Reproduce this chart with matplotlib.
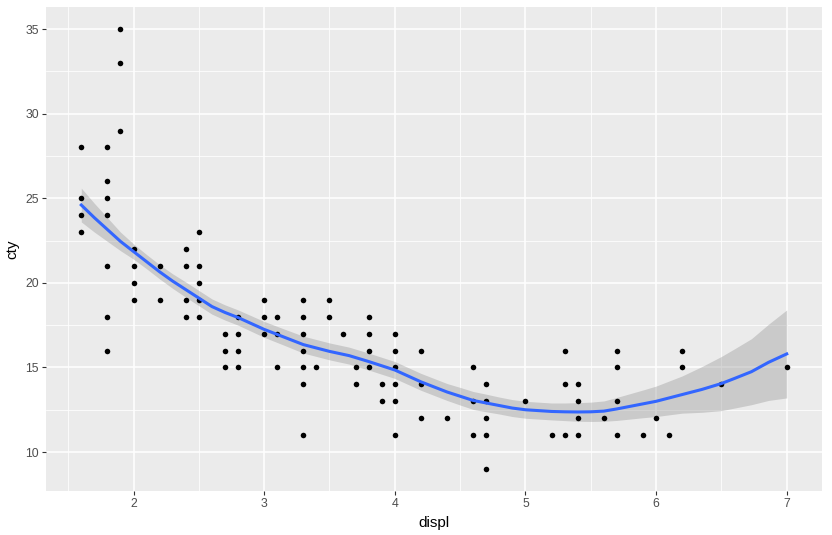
import matplotlib
matplotlib.use('Agg')
import matplotlib.pyplot as plt
import numpy as np

# Data: unique (displ, cty) pairs
displ = ([1.6] * 4 + [1.8] * 7 + [1.9] * 3 + [2.0] * 4 + [2.2] * 2 + [2.4] * 4 + [2.5] * 5
         + [2.7] * 3 + [2.8] * 4 + [3.0] * 3 + [3.1] * 3 + [3.3] * 7 + [3.4] + [3.5] * 2
         + [3.6] + [3.7] * 2 + [3.8] * 4 + [3.9] * 2 + [4.0] * 6 + [4.2] * 3 + [4.4]
         + [4.6] * 3 + [4.7] * 5 + [5.0] + [5.2] + [5.3] * 3 + [5.4] * 4 + [5.6]
         + [5.7] * 4 + [5.9] + [6.0] + [6.1] + [6.2] * 2 + [6.5] + [7.0])
cty = ([28, 25, 24, 23] + [28, 26, 25, 24, 21, 18, 16] + [35, 33, 29] + [22, 21, 20, 19]
       + [21, 19] + [22, 21, 19, 18] + [23, 21, 20, 19, 18]
       + [17, 16, 15] + [18, 17, 16, 15] + [19, 18, 17] + [18, 17, 15]
       + [19, 18, 17, 16, 15, 14, 11] + [15] + [19, 18]
       + [17] + [15, 14] + [18, 17, 16, 15] + [14, 13] + [17, 16, 15, 14, 13, 11]
       + [16, 14, 12] + [12]
       + [15, 13, 11] + [14, 13, 12, 11, 9] + [13] + [11] + [16, 14, 11] + [14, 13, 12, 11]
       + [12] + [16, 15, 13, 11] + [11] + [12] + [11] + [16, 15] + [14] + [15])

# Smooth curve (loess) and its confidence half-width
fit_x = [1.6, 1.7, 1.8, 1.9, 2.0, 2.1, 2.2, 2.3, 2.4, 2.5, 2.6, 2.7, 2.8, 2.9, 3.0,
         3.15, 3.3, 3.5, 3.65, 3.8, 4.0, 4.1, 4.2, 4.3, 4.4, 4.5, 4.6, 4.7, 4.8, 4.9,
         5.0, 5.1, 5.2, 5.3, 5.4, 5.5, 5.6, 5.7, 5.8, 5.9, 6.0, 6.1, 6.2, 6.35, 6.5,
         6.6, 6.73, 6.86, 7.0]
fit_y = [24.6, 23.85, 23.15, 22.45, 21.85, 21.25, 20.65, 20.1, 19.6, 19.1, 18.6, 18.25,
         17.95, 17.6, 17.25, 16.8, 16.35, 15.95, 15.7, 15.35, 14.85, 14.5, 14.15, 13.85,
         13.55, 13.3, 13.05, 12.9, 12.75, 12.6, 12.5, 12.45, 12.4, 12.38, 12.37, 12.38,
         12.42, 12.55, 12.7, 12.85, 13.0, 13.2, 13.4, 13.7, 14.05, 14.35, 14.75, 15.3,
         15.8]
fit_se = [1.0, 0.85, 0.7, 0.55, 0.45, 0.42, 0.42, 0.43, 0.45, 0.45, 0.45, 0.45, 0.45,
          0.46, 0.47, 0.48, 0.5, 0.5, 0.5, 0.5, 0.5, 0.5, 0.5, 0.5, 0.5, 0.52, 0.53, 0.52,
          0.5, 0.5, 0.5, 0.5, 0.5, 0.52, 0.55, 0.57, 0.6, 0.68, 0.75, 0.82, 0.9, 1.0,
          1.1, 1.35, 1.6, 1.75, 1.95, 2.25, 2.6]

plt.rcParams['font.family'] = ['Liberation Sans', 'DejaVu Sans']

fig = plt.figure(figsize=(8.32, 5.35), dpi=100)
ax = fig.add_axes([46 / 832, 44 / 535, 776 / 832, 484 / 535])
ax.set_facecolor('#EBEBEB')

fx = np.array(fit_x)
fy = np.array(fit_y)
fs = np.array(fit_se)
ax.fill_between(fx, fy - fs, fy + fs, color='#999999', alpha=0.4, linewidth=0, zorder=2)
ax.scatter(displ, cty, s=16, color='black', linewidths=0, zorder=3)
ax.plot(fx, fy, color='#3366FF', linewidth=2.2, zorder=4)

ax.set_xlim(1.33, 7.27)
ax.set_ylim(7.7, 36.3)
ax.set_xticks([2, 3, 4, 5, 6, 7])
ax.set_yticks([10, 15, 20, 25, 30, 35])
ax.set_xticks(np.arange(1.5, 7.0, 1.0), minor=True)
ax.set_yticks(np.arange(12.5, 35, 5), minor=True)
ax.grid(True, which='major', color='white', linewidth=1.1, zorder=0)
ax.grid(True, which='minor', color='white', linewidth=0.55, zorder=0)
ax.set_axisbelow(True)

for s in ax.spines.values():
    s.set_visible(False)
ax.tick_params(which='major', length=3, width=0.8, color='#333333',
               labelcolor='#4D4D4D', labelsize=8.8, pad=2)
ax.tick_params(which='minor', length=0)

ax.set_xlabel('displ', fontsize=11, labelpad=4)
ax.set_ylabel('cty', fontsize=11, labelpad=4)

fig.savefig('out.png', dpi=100)
